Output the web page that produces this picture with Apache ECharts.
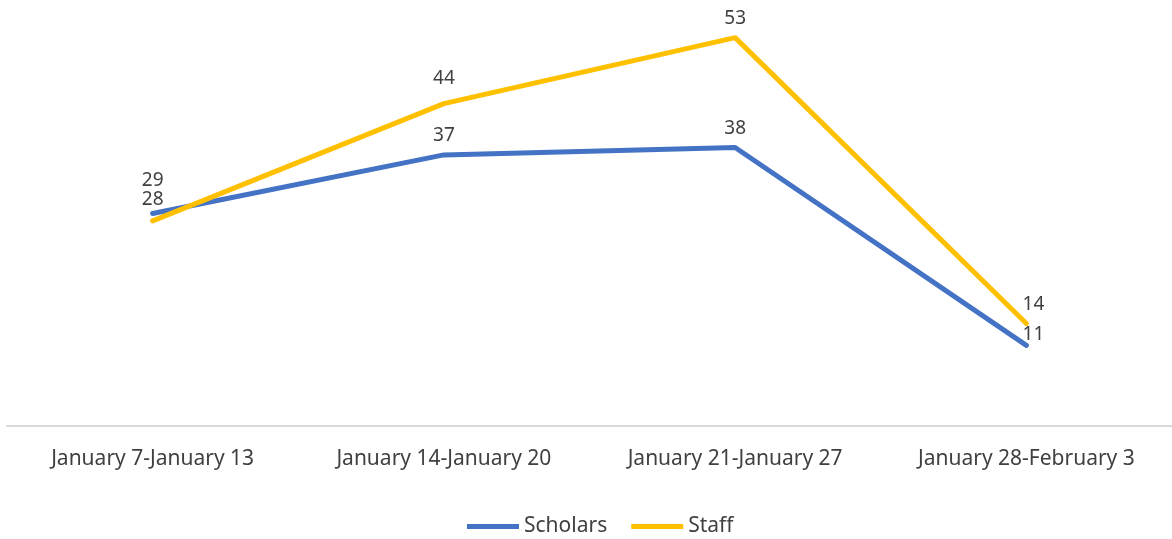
<!DOCTYPE html>
<html style="height: 100%">
<head>
    <meta charset="utf-8">
</head>
<body style="height: 100%; margin: 0; background: #fff">
    <div id="container" style="width: 1172px; height: 539px"></div>
    <script type="text/javascript" src="https://cdn.jsdelivr.net/npm/echarts@6/dist/echarts.min.js"></script>
    <script type="text/javascript">
        var weeks = ['January 7-January 13', 'January 14-January 20', 'January 21-January 27', 'January 28-February 3'];
        var scholars = [29, 37, 38, 11];
        var staff = [28, 44, 53, 14];

        // label nudges, like the hand-moved labels in the original
        var scholarsShift = [[0, -14], [0, 0], [0, 0], [7, 8]];
        var staffShift = [[0, -2], [0, -6], [0, 0], [7, 0]];

        var textColor = '#404040';
        var font = '"Noto Sans", sans-serif';

        function withLabels(values, shifts) {
            return values.map(function (v, i) {
                return { value: v, label: { offset: shifts[i] } };
            });
        }

        function makeSeries(name, color, values, shifts) {
            return {
                name: name,
                type: 'line',
                data: withLabels(values, shifts),
                symbol: 'circle',
                symbolSize: 1,
                itemStyle: { color: color },
                lineStyle: { color: color, width: 5, cap: 'round', join: 'round' },
                label: {
                    show: true,
                    position: 'top',
                    distance: 9,
                    color: textColor,
                    fontFamily: font,
                    fontSize: 19
                },
                emphasis: { disabled: true },
                animation: false
            };
        }

        var myChart = echarts.init(document.getElementById('container'));
        var option = {
            backgroundColor: '#fff',
            grid: { left: 7, right: -6, top: 1, bottom: 113 },
            legend: {
                bottom: -3,
                left: 462,
                icon: 'rect',
                itemWidth: 52,
                itemHeight: 5,
                itemGap: 24,
                textStyle: { color: textColor, fontFamily: font, fontSize: 21 },
                data: ['Scholars', 'Staff']
            },
            xAxis: {
                type: 'category',
                data: weeks,
                boundaryGap: true,
                axisLine: { lineStyle: { color: '#d9d9d9', width: 2 } },
                axisTick: { show: false },
                axisLabel: {
                    color: textColor,
                    fontFamily: font,
                    fontSize: 21,
                    margin: 23,
                    interval: 0
                }
            },
            yAxis: {
                type: 'value',
                min: 0,
                max: 58,
                show: false,
                splitLine: { show: false }
            },
            series: [
                makeSeries('Scholars', '#4472c4', scholars, scholarsShift),
                makeSeries('Staff', '#ffc000', staff, staffShift)
            ]
        };
        myChart.setOption(option, true);
    </script>
</body>
</html>
